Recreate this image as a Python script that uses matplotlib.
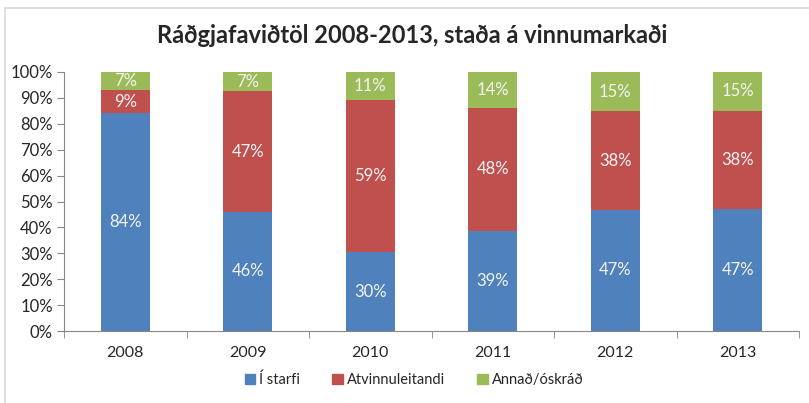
import numpy as np
import matplotlib
matplotlib.use("Agg")
import matplotlib.pyplot as plt
from matplotlib.patches import Rectangle, Patch

plt.rcParams["font.family"] = ["Lato", "DejaVu Sans"]

years = ["2008", "2009", "2010", "2011", "2012", "2013"]
i_starfi = [84.0, 46.0, 30.4, 38.6, 46.8, 47.0]
atvinnuleitandi = [9.0, 46.6, 58.8, 47.6, 38.0, 38.0]
annad = [7.0, 7.4, 10.8, 13.8, 15.2, 15.0]

series_names = ["Í starfi", "Atvinnuleitandi", "Annað/óskráð"]
colors = ["#4F81BD", "#C0504D", "#9BBB59"]
axis_grey = "#868686"
text_col = "#262626"

fig = plt.figure(figsize=(8.09, 4.03), dpi=100)
ax = fig.add_axes([64 / 809, 1 - 331 / 403, 735 / 809, 259 / 403])

x = np.arange(len(years))
bottom = np.zeros(len(years))
for vals, name, col in zip([i_starfi, atvinnuleitandi, annad], series_names, colors):
    vals = np.asarray(vals)
    ax.bar(x, vals, 0.4, bottom=bottom, color=col, label=name, zorder=2)
    for xi, b, v in zip(x, bottom, vals):
        ax.text(xi, b + v / 2, f"{v:.0f}%", ha="center", va="center",
                color="#f4f4f4", fontsize=12, zorder=3)
    bottom += vals

ax.set_xlim(-0.5, len(years) - 0.5)
ax.set_ylim(0, 100)
ax.set_yticks(np.arange(0, 101, 10))
ax.set_yticklabels([f"{v}%" for v in range(0, 101, 10)])
ax.set_xticks(x)
ax.set_xticklabels(years)
ax.set_xticks(np.arange(-0.5, len(years)), minor=True)
ax.tick_params(axis="x", which="major", length=0, pad=11, labelsize=11.5, labelcolor=text_col)
ax.tick_params(axis="x", which="minor", length=5, color=axis_grey, direction="out")
ax.tick_params(axis="y", length=5, color=axis_grey, labelsize=12, labelcolor=text_col, pad=3)

for side in ["top", "right"]:
    ax.spines[side].set_visible(False)
for side in ["left", "bottom"]:
    ax.spines[side].set_color(axis_grey)

fig.suptitle("Ráðgjafaviðtöl 2008-2013, staða á vinnumarkaði", x=0.510, y=0.94,
             fontsize=17, fontweight="bold", color=text_col)

handles = [Patch(color=c, label=n) for c, n in zip(colors, series_names)]
fig.legend(handles=handles, loc="center", bbox_to_anchor=(0.512, 0.057), ncol=3,
           frameon=False, fontsize=10.5, handlelength=0.7, handleheight=0.7,
           handletextpad=0.3, columnspacing=2.2, labelcolor=text_col)

# chart frame (extends past the right and bottom edges)
fig.patches.append(Rectangle((5 / 809, -0.1), 1.2, 1 - 8 / 403 + 0.1,
                             transform=fig.transFigure, fill=False,
                             edgecolor="#d9d9d9", linewidth=1.2))

fig.savefig("out.png", dpi=100, facecolor="white")
